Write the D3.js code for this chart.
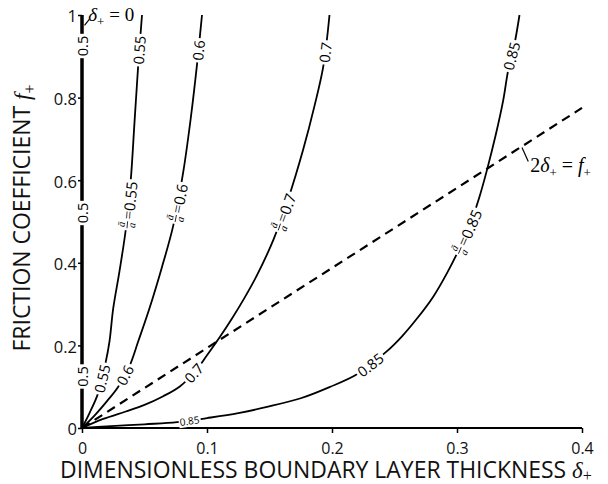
<!DOCTYPE html>
<html>
<head>
<meta charset="utf-8">
<script src="https://cdn.jsdelivr.net/npm/d3@7"></script>
<style>
  body { margin: 0; background: #fff; }
  svg { display: block; }
</style>
</head>
<body>
<svg id="chart"></svg>
<script>
// axis ticks
const xTicks = [0, 0.1, 0.2, 0.3, 0.4];
const xTickLabels = ["0", "0.1", "0.2", "0.3", "0.4"];
const yTicks = [0, 0.2, 0.4, 0.6, 0.8, 1];
const yTickLabels = ["0", "0.2", "0.4", "0.6", "0.8", "1"];

// curves for each ratio a-bar / a (delta+ , f+)
const ratios = ["0.5", "0.55", "0.6", "0.7", "0.85"];
const delta050 = [0, 0];
const f050 = [0, 1];
const delta055 = [0, 0.006, 0.013, 0.019, 0.022, 0.025, 0.030, 0.035, 0.039, 0.042, 0.045, 0.048];
const f055 = [0, 0.036, 0.085, 0.16, 0.21, 0.29, 0.38, 0.48, 0.60, 0.74, 0.88, 1.0];
const delta060 = [0, 0.010, 0.020, 0.029, 0.038, 0.045, 0.054, 0.064, 0.073, 0.081, 0.087, 0.092, 0.096];
const f060 = [0, 0.030, 0.065, 0.10, 0.15, 0.21, 0.29, 0.39, 0.49, 0.62, 0.75, 0.88, 1.0];
const delta070 = [0, 0.017, 0.035, 0.050, 0.065, 0.078, 0.090, 0.100, 0.110, 0.120, 0.130, 0.140, 0.153, 0.165, 0.177, 0.186, 0.193, 0.198];
const f070 = [0, 0.022, 0.040, 0.056, 0.077, 0.100, 0.135, 0.176, 0.219, 0.265, 0.315, 0.370, 0.455, 0.555, 0.675, 0.78, 0.875, 1.0];
const delta085 = [0, 0.020, 0.050, 0.076, 0.100, 0.125, 0.148, 0.175, 0.198, 0.220, 0.244, 0.256, 0.268, 0.281, 0.292, 0.302, 0.311, 0.318, 0.324, 0.331, 0.337, 0.341, 0.346, 0.350];
const f085 = [0, 0.004, 0.009, 0.014, 0.024, 0.036, 0.051, 0.072, 0.099, 0.13, 0.186, 0.222, 0.265, 0.318, 0.375, 0.435, 0.497, 0.56, 0.625, 0.71, 0.794, 0.867, 0.93, 1.0];

// dashed line 2 delta+ = f+
const deltaDash = [0, 0.4];
const fDash = [0, 0.775];

// inline contour labels: curve, kind, text, where along the curve (by f or by delta)
const labelCurve = ["0.5", "0.5", "0.5", "0.55", "0.55", "0.55", "0.6", "0.6", "0.6", "0.7", "0.7", "0.7", "0.85", "0.85", "0.85", "0.85"];
const labelKind = ["plain", "plain", "plain", "plain", "ratio", "plain", "plain", "ratio", "plain", "plain", "ratio", "plain", "plain", "ratio", "plain", "small"];
const labelText = ["0.5", "0.5", "0.5", "0.55", "0.55", "0.55", "0.6", "0.6", "0.6", "0.7", "0.7", "0.7", "0.85", "0.85", "0.85", "0.85"];
const labelAxis = ["f", "f", "f", "f", "f", "f", "f", "f", "f", "f", "f", "f", "f", "f", "f", "d"];
const labelAt = [0.925, 0.52, 0.125, 0.915, 0.54, 0.12, 0.915, 0.545, 0.128, 0.91, 0.523, 0.133, 0.90, 0.475, 0.153, 0.086];

const width = 608, height = 484;
const svg = d3.select("#chart").attr("width", width).attr("height", height);

const x = d3.scaleLinear().domain([0, 0.4]).range([82, 582]);
const y = d3.scaleLinear().domain([0, 1]).range([428, 15]);

const sans = "'Open Sans', sans-serif";
const serif = "'Liberation Serif', 'DejaVu Serif', serif";

// axes
const xAxis = d3.axisBottom(x).tickValues(xTicks).tickSize(5).tickFormat((d, i) => xTickLabels[i]);
const yAxis = d3.axisLeft(y).tickValues(yTicks).tickSize(4).tickFormat((d, i) => yTickLabels[i]);

const gx = svg.append("g").attr("transform", `translate(0, ${y(0)})`).call(xAxis);
gx.select(".domain").attr("d", `M${x(0)},0H${x(0.4)}`).attr("stroke-width", 2.2);
gx.selectAll(".tick line").attr("stroke-width", 1.5);
gx.selectAll(".tick text").attr("font-family", sans).attr("font-size", 16).attr("fill", "#111").attr("dy", null).attr("y", 26);

const gy = svg.append("g").attr("transform", `translate(${x(0)}, 0)`).call(yAxis);
gy.select(".domain").attr("d", `M0,${y(0)}V${y(1)}`).attr("stroke-width", 2);
gy.selectAll(".tick line").attr("stroke-width", 1.5);
gy.selectAll(".tick text").attr("font-family", sans).attr("font-size", 16.5).attr("fill", "#111")
  .attr("x", -5).attr("dy", "0.72em").attr("y", -5);

// curves
const line = d3.line().x(d => x(d[0])).y(d => y(d[1])).curve(d3.curveCatmullRom.alpha(0.5));
const curveData = {
  "0.5": d3.zip(delta050, f050),
  "0.55": d3.zip(delta055, f055),
  "0.6": d3.zip(delta060, f060),
  "0.7": d3.zip(delta070, f070),
  "0.85": d3.zip(delta085, f085)
};

const plot = svg.append("g");
const paths = {};
ratios.forEach(r => {
  paths[r] = plot.append("path")
    .datum(curveData[r])
    .attr("d", line)
    .attr("fill", "none")
    .attr("stroke", "#000")
    .attr("stroke-width", r === "0.5" ? 3.5 : 1.8);
});

plot.append("path")
  .datum(d3.zip(deltaDash, fDash))
  .attr("d", line)
  .attr("fill", "none")
  .attr("stroke", "#000")
  .attr("stroke-width", 2.2)
  .attr("stroke-dasharray", "9,6");

// inline labels
const labelLayer = svg.append("g");
labelCurve.forEach((c, i) => {
  const node = paths[c].node();
  const L = node.getTotalLength();
  let best = 0, bd = Infinity;
  for (let s = 0; s <= L; s += 0.5) {
    const p = node.getPointAtLength(s);
    const d = labelAxis[i] === "f" ? Math.abs(p.y - y(labelAt[i])) : Math.abs(p.x - x(labelAt[i]));
    if (d < bd) { bd = d; best = s; }
  }
  const p = node.getPointAtLength(best);
  const a = node.getPointAtLength(Math.max(0, best - 4));
  const b = node.getPointAtLength(Math.min(L, best + 4));
  const ang = Math.atan2(b.y - a.y, b.x - a.x) * 180 / Math.PI;

  const g = labelLayer.append("g").attr("transform", `translate(${p.x},${p.y}) rotate(${ang})`);
  const bg = g.append("rect").attr("fill", "#fff");
  const inner = g.append("g");

  if (labelKind[i] === "ratio") {
    const fr = inner.append("g");
    fr.append("text").attr("x", 3.5).attr("y", -2.5).attr("text-anchor", "middle")
      .attr("font-family", serif).attr("font-style", "italic").attr("font-size", 10.5).text("\u0101");
    fr.append("line").attr("x1", 0).attr("x2", 7).attr("y1", 0).attr("y2", 0)
      .attr("stroke", "#000").attr("stroke-width", 0.8);
    fr.append("text").attr("x", 3.5).attr("y", 8).attr("text-anchor", "middle")
      .attr("font-family", serif).attr("font-style", "italic").attr("font-size", 10.5).text("a");
    const t = inner.append("text").attr("x", 9).attr("y", 0).attr("dominant-baseline", "central")
      .attr("font-size", 15).attr("fill", "#000");
    t.append("tspan").attr("font-family", serif).text("=");
    t.append("tspan").attr("font-family", sans).text(labelText[i]);
  } else {
    inner.append("text").attr("x", 0).attr("y", 0).attr("dominant-baseline", "central")
      .attr("font-family", sans).attr("font-size", labelKind[i] === "small" ? 10 : 14.5)
      .attr("fill", "#000").text(labelText[i]);
  }
  const bb = inner.node().getBBox();
  const cx = bb.x + bb.width / 2, cy = bb.y + bb.height / 2;
  inner.attr("transform", `translate(${-cx},${-cy})`);
  const pad = labelKind[i] === "small" ? 1 : 2;
  bg.attr("x", -bb.width / 2 - pad).attr("y", -bb.height / 2 + 1)
    .attr("width", bb.width + 2 * pad).attr("height", bb.height - 2);
});

// annotation: delta+ = 0
const ann = svg.append("g").attr("fill", "#000");
ann.append("line")
  .attr("x1", x(0.002)).attr("y1", y(0.975)).attr("x2", x(0.006)).attr("y2", y(0.99))
  .attr("stroke", "#000").attr("stroke-width", 1.2);
const t1 = ann.append("text").attr("x", x(0.005)).attr("y", y(0.985))
  .attr("font-family", serif).attr("font-size", 19);
t1.append("tspan").attr("font-style", "italic").text("\u03b4");
t1.append("tspan").attr("font-size", 13).attr("dy", 5).text("+");
t1.append("tspan").attr("dy", -5).text(" = 0");

// annotation: 2 delta+ = f+
ann.append("line")
  .attr("x1", x(0.352)).attr("y1", y(0.679)).attr("x2", x(0.357)).attr("y2", y(0.645))
  .attr("stroke", "#000").attr("stroke-width", 1.2);
const t2 = ann.append("text").attr("x", x(0.3585)).attr("y", y(0.62))
  .attr("font-family", serif).attr("font-size", 20);
t2.append("tspan").text("2");
t2.append("tspan").attr("font-style", "italic").text("\u03b4");
t2.append("tspan").attr("font-size", 13).attr("dy", 5).text("+");
t2.append("tspan").attr("dy", -5).text(" = ");
t2.append("tspan").attr("font-style", "italic").text("f");
t2.append("tspan").attr("font-size", 13).attr("dy", 5).text("+");

// axis titles
const xt = svg.append("text").attr("x", 60).attr("y", 478)
  .attr("font-family", sans).attr("font-size", 20).attr("fill", "#111");
xt.append("tspan").text("DIMENSIONLESS BOUNDARY LAYER THICKNESS ");
xt.append("tspan").attr("font-family", serif).attr("font-style", "italic").text("\u03b4");
xt.append("tspan").attr("font-family", serif).attr("font-size", 14).attr("dy", 3).text("+");
// fit the title to the span it takes in the picture
const titleSize = 20 * 532 / xt.node().getComputedTextLength();
xt.attr("font-size", titleSize);
xt.select("tspan:last-child").attr("font-size", titleSize * 0.7);

const yt = svg.append("text")
  .attr("font-family", sans).attr("font-size", titleSize).attr("fill", "#111")
  .attr("text-anchor", "middle").attr("transform", "translate(30, 218) rotate(-90)");
yt.append("tspan").text("FRICTION COEFFICIENT ");
yt.append("tspan").attr("font-family", serif).attr("font-style", "italic").text("f");
yt.append("tspan").attr("font-family", serif).attr("font-size", titleSize * 0.7).attr("dy", 5).text("+");
</script>
</body>
</html>
